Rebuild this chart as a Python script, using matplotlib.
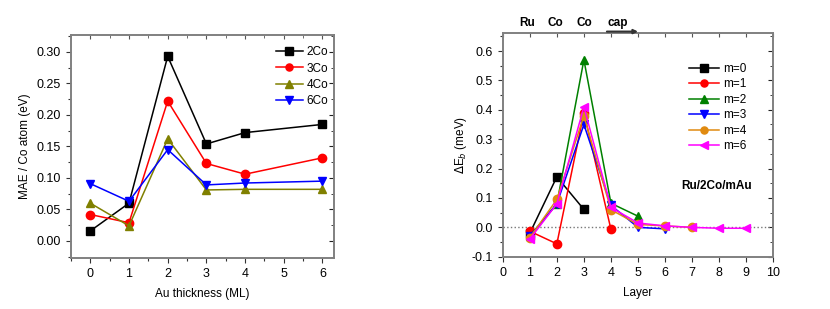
import numpy as np
import matplotlib
matplotlib.use("Agg")
import matplotlib.pyplot as plt
from matplotlib.ticker import MultipleLocator

plt.rcParams["font.family"] = ["Liberation Sans", "DejaVu Sans"]
plt.rcParams["font.size"] = 9

# left panel: MAE vs Au thickness
au_ml = [0, 1, 2, 3, 4, 6]
mae = {
    "2Co": [0.016, 0.060, 0.293, 0.154, 0.172, 0.185],
    "3Co": [0.042, 0.029, 0.222, 0.123, 0.106, 0.132],
    "4Co": [0.060, 0.024, 0.162, 0.081, 0.082, 0.082],
    "6Co": [0.091, 0.063, 0.145, 0.089, 0.092, 0.095],
}
left_style = {
    "2Co": ("black", "s"),
    "3Co": ("red", "o"),
    "4Co": ("#808000", "^"),
    "6Co": ("blue", "v"),
}

# right panel: layer-resolved dE_b
layers = {
    "m=0": [1, 2, 3],
    "m=1": [1, 2, 3, 4],
    "m=2": [1, 2, 3, 4, 5],
    "m=3": [1, 2, 3, 4, 5, 6],
    "m=4": [1, 2, 3, 4, 5, 6, 7],
    "m=6": [1, 2, 3, 4, 5, 6, 7, 8, 9],
}
deb = {
    "m=0": [-0.020, 0.172, 0.061],
    "m=1": [-0.013, -0.056, 0.390, -0.007],
    "m=2": [-0.030, 0.080, 0.570, 0.082, 0.038],
    "m=3": [-0.030, 0.080, 0.350, 0.075, 0.000, -0.005],
    "m=4": [-0.035, 0.095, 0.380, 0.060, 0.010, 0.005, 0.000],
    "m=6": [-0.040, 0.080, 0.410, 0.068, 0.015, 0.005, 0.000, -0.003, -0.003],
}
right_style = {
    "m=0": ("black", "s"),
    "m=1": ("red", "o"),
    "m=2": ("#008000", "^"),
    "m=3": ("blue", "v"),
    "m=4": ("#E08A10", "o"),
    "m=6": ("magenta", "<"),
}
top_labels = ["Ru", "Co", "Co", "cap"]
top_pos = [0.9, 1.95, 3.0, 4.25]

fig = plt.figure(figsize=(8.3, 3.09), dpi=100)
ax1 = fig.add_axes([0.0855, 0.165, 0.317, 0.722])
ax2 = fig.add_axes([0.6057, 0.169, 0.326, 0.723])


def style_axes(ax, xminor=None):
    for sp in ax.spines.values():
        sp.set_color("#808080")
        sp.set_linewidth(1.4)
    if xminor:
        ax.xaxis.set_minor_locator(MultipleLocator(xminor))
    ax.tick_params(which="both", direction="out", top=False, right=False,
                   color="#333333", width=0.8)
    ax.tick_params(which="major", length=3.5)
    ax.tick_params(which="minor", length=2)
    sec_t = ax.secondary_xaxis("top")
    sec_t.xaxis.set_major_locator(ax.xaxis.get_major_locator())
    if xminor:
        sec_t.xaxis.set_minor_locator(MultipleLocator(xminor))
    sec_t.tick_params(which="both", direction="in", labeltop=False, color="#555555")
    sec_t.tick_params(which="major", length=3)
    sec_t.tick_params(which="minor", length=2)
    sec_t.spines["top"].set_visible(False)
    sec_r = ax.secondary_yaxis("right")
    sec_r.yaxis.set_major_locator(ax.yaxis.get_major_locator())
    sec_r.yaxis.set_minor_locator(ax.yaxis.get_minor_locator())
    sec_r.tick_params(which="both", direction="in", labelright=False, color="#222222")
    sec_r.tick_params(which="major", length=3.5)
    sec_r.tick_params(which="minor", length=2)
    sec_r.spines["right"].set_visible(False)


for name, ys in mae.items():
    c, m = left_style[name]
    ax1.plot(au_ml, ys, color=c, marker=m, markersize=6, lw=1.1, label=name)
ax1.set_xlim(-0.5, 6.3)
ax1.set_ylim(-0.027, 0.327)
ax1.set_xticks(range(7))
ax1.yaxis.set_major_locator(MultipleLocator(0.05))
ax1.yaxis.set_minor_locator(MultipleLocator(0.025))
ax1.yaxis.set_major_formatter(plt.FormatStrFormatter("%.2f"))
ax1.set_xlabel("Au thickness (ML)", labelpad=6, fontsize=8.5)
ax1.set_ylabel("MAE / Co atom (eV)", labelpad=4, fontsize=8.5)
ax1.legend(loc="upper left", bbox_to_anchor=(0.755, 0.975), frameon=False,
           handlelength=2.3, labelspacing=0.35, borderpad=0, handletextpad=0.35,
           fontsize=8.5, markerscale=0.85)
style_axes(ax1, xminor=0.5)

ax2.axhline(0, color="#777777", ls=":", lw=1)
for name in deb:
    c, m = right_style[name]
    ax2.plot(layers[name], deb[name], color=c, marker=m, markersize=6, lw=1.1,
             label=name)
ax2.set_xlim(0, 10)
ax2.set_ylim(-0.1, 0.66)
ax2.set_xticks(range(11))
ax2.yaxis.set_major_locator(MultipleLocator(0.1))
ax2.yaxis.set_minor_locator(MultipleLocator(0.05))
ax2.yaxis.set_major_formatter(plt.FormatStrFormatter("%.1f"))
ax2.set_xlabel("Layer", labelpad=6, fontsize=8.5)
ax2.set_ylabel(r"$\Delta$E$_b$ (meV)", labelpad=2, fontsize=8.5)
ax2.legend(loc="upper left", bbox_to_anchor=(0.665, 0.895), frameon=False,
           handlelength=2.6, labelspacing=0.3, borderpad=0, handletextpad=0.3,
           fontsize=8.5, markerscale=0.85)
ax2.text(0.659, 0.318, "Ru/2Co/mAu", transform=ax2.transAxes, fontsize=8.5,
         fontweight="bold", va="center")
tr = ax2.get_xaxis_transform()
for lab, xp in zip(top_labels, top_pos):
    ax2.text(xp, 1.045, lab, transform=tr, ha="center", va="center",
             fontsize=8.5, fontweight="bold")
ax2.annotate("", xy=(5.0, 1.008), xytext=(3.85, 1.008), xycoords=tr,
             arrowprops=dict(arrowstyle="-|>", color="#333333", lw=1.5,
                             mutation_scale=6, shrinkA=0, shrinkB=0),
             annotation_clip=False)
style_axes(ax2)

fig.savefig("out.png", dpi=100)
